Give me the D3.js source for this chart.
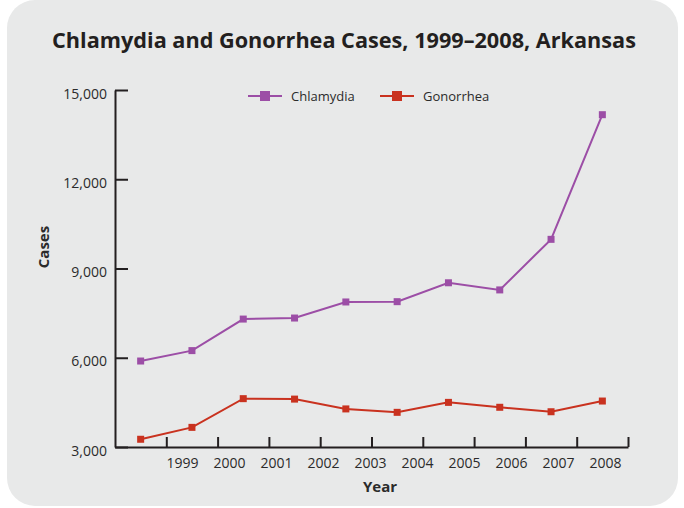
<!DOCTYPE html>
<html>
<head>
<meta charset="utf-8">
<script src="https://cdn.jsdelivr.net/npm/d3@7"></script>
<style>
  body { margin: 0; background: #fff; }
  text { font-family: "Open Sans", sans-serif; fill: #2b2b2b; }
</style>
</head>
<body>
<script>
// data
const years = [1999, 2000, 2001, 2002, 2003, 2004, 2005, 2006, 2007, 2008];
const chlamydia = [5890, 6240, 7300, 7335, 7875, 7885, 8520, 8280, 9980, 14170];
const gonorrhea = [3260, 3660, 4625, 4610, 4280, 4165, 4500, 4335, 4185, 4545];
const yTicks = [3000, 6000, 9000, 12000, 15000];
const seriesNames = ["Chlamydia", "Gonorrhea"];
const seriesColors = ["#9c4ea6", "#c9321f"];

const W = 684, H = 508;
const mLeft = 115, mRight = 628, mTop = 90, mBottom = 447;

const svg = d3.select("body").append("svg")
    .attr("width", W).attr("height", H);

// card
svg.append("rect")
    .attr("x", 7).attr("y", 0).attr("width", 671).attr("height", 506)
    .attr("rx", 28).attr("fill", "#e8e9e9");

// title
const title = svg.append("text")
    .attr("x", 344).attr("y", 48)
    .attr("text-anchor", "middle")
    .style("font-size", "22px").style("font-weight", "bold")
    .style("fill", "#231f20")
    .text("Chlamydia and Gonorrhea Cases, 1999\u20132008, Arkansas");
const tw = title.node().getComputedTextLength();
if (tw > 584) {
    const k = 584 / tw;
    title.attr("transform", `translate(344,0) scale(${k},1) translate(-344,0)`);
}

// scales
const x = d3.scaleBand().domain(years).range([mLeft, mRight]).padding(0);
const xTick = d3.scaleLinear().domain([0, years.length]).range([mLeft, mRight]);
const xLab = d3.scalePoint().domain(years).range([182, 605]);
const y = d3.scaleLinear().domain([3000, 15000]).range([mBottom, mTop]);

// y axis
const gy = svg.append("g")
    .attr("transform", `translate(${mLeft},0)`)
    .call(d3.axisLeft(y).tickValues(yTicks).tickFormat(d3.format(","))
        .tickSizeInner(-13).tickSizeOuter(0).tickPadding(8));
gy.select(".domain").attr("stroke", "#231f20").attr("stroke-width", 2);
gy.selectAll(".tick line").attr("stroke", "#231f20").attr("stroke-width", 2);
gy.selectAll(".tick text")
    .attr("dy", "0.58em")
    .style("font-size", "14px").style("font-family", "Open Sans, sans-serif")
    .attr("fill", "#2b2b2b");

// x axis line and ticks
const gx = svg.append("g")
    .attr("transform", `translate(0,${mBottom})`)
    .call(d3.axisBottom(xTick).tickValues(d3.range(1, years.length + 1))
        .tickFormat("").tickSizeInner(-10).tickSizeOuter(0));
gx.select(".domain").attr("stroke", "#231f20").attr("stroke-width", 2);
gx.selectAll(".tick line").attr("stroke", "#231f20").attr("stroke-width", 2);

// x labels
const gl = svg.append("g")
    .attr("transform", `translate(0,${mBottom})`)
    .call(d3.axisBottom(xLab).tickSize(0).tickPadding(11));
gl.select(".domain").remove();
gl.selectAll(".tick text")
    .style("font-size", "14px").style("font-family", "Open Sans, sans-serif")
    .attr("fill", "#2b2b2b");

// axis titles
svg.append("text")
    .attr("x", 380).attr("y", 492)
    .attr("text-anchor", "middle")
    .style("font-size", "15px").style("font-weight", "bold")
    .text("Year");
svg.append("text")
    .attr("transform", "translate(49,247) rotate(-90)")
    .attr("text-anchor", "middle")
    .style("font-size", "15px").style("font-weight", "bold")
    .text("Cases");

// lines + markers
const cx = d => x(d) + x.bandwidth() / 2;
const line = d3.line().x(d => cx(d[0])).y(d => y(d[1]));
[chlamydia, gonorrhea].forEach((vals, i) => {
    const pts = years.map((yr, j) => [yr, vals[j]]);
    svg.append("path").datum(pts)
        .attr("fill", "none").attr("stroke", seriesColors[i])
        .attr("stroke-width", 2).attr("d", line);
    svg.append("g").selectAll("rect").data(pts).enter().append("rect")
        .attr("x", d => cx(d[0]) - 3.5).attr("y", d => y(d[1]) - 3.5)
        .attr("width", 7).attr("height", 7)
        .attr("fill", seriesColors[i]);
});

// legend
const lx = [248, 380];
const legend = svg.append("g").selectAll("g").data(seriesNames).enter().append("g")
    .attr("transform", (d, i) => `translate(${lx[i]},96)`);
legend.append("line")
    .attr("x1", 0).attr("x2", 34).attr("stroke", (d, i) => seriesColors[i]).attr("stroke-width", 2);
legend.append("rect")
    .attr("x", 12).attr("y", -5).attr("width", 10).attr("height", 10)
    .attr("fill", (d, i) => seriesColors[i]);
legend.append("text")
    .attr("x", 43).attr("y", 4.5)
    .style("font-size", "13px").attr("fill", "#333")
    .text(d => d);
</script>
</body>
</html>
